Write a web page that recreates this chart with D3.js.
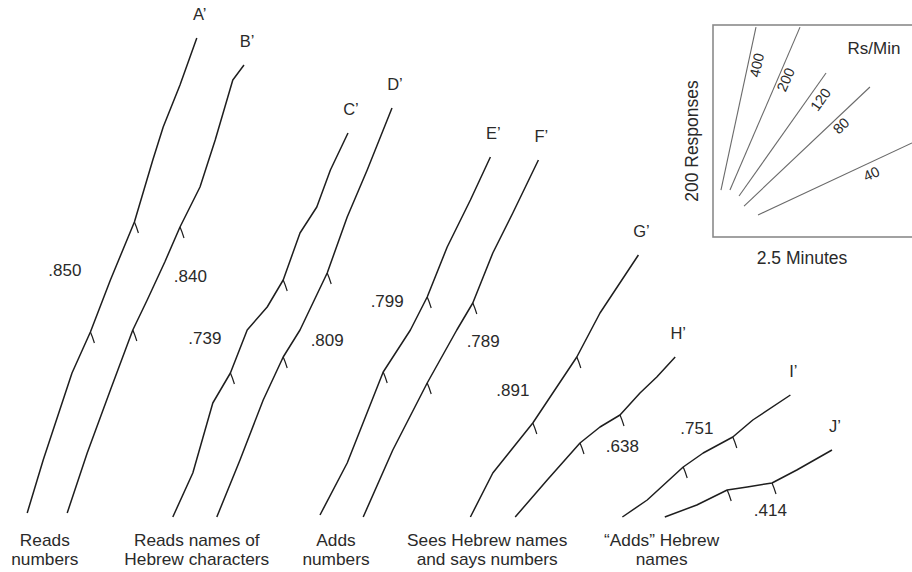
<!DOCTYPE html>
<html>
<head>
<meta charset="utf-8">
<script src="https://cdn.jsdelivr.net/npm/d3@7"></script>
<style>
  html, body { margin: 0; padding: 0; background: #fff; }
  svg { display: block; }
  text { font-family: "Liberation Sans", Arial, Helvetica, sans-serif; fill: #2a2a2a; }
</style>
</head>
<body>
<svg id="chart" width="912" height="572"></svg>
<script>
// ---- Data: cumulative records (minutes, cumulative responses) ----
const curveIds = ["A", "B", "C", "D", "E", "F", "G", "H", "I", "J"];

const minutesA = [0.34, 0.54, 0.90, 1.13, 1.38, 1.68, 1.91, 2.04, 2.25, 2.46];
const respA    = [4, 57, 144, 185, 237, 295, 357, 390, 432, 479];
const minutesB = [0.84, 1.09, 1.38, 1.66, 1.84, 2.06, 2.25, 2.50, 2.69, 2.91, 3.05];
const respB    = [4, 64, 127, 187, 217, 255, 290, 330, 377, 437, 452];
const minutesC = [2.16, 2.41, 2.66, 2.88, 3.09, 3.34, 3.54, 3.75, 3.96, 4.13, 4.35];
const respC    = [0, 44, 114, 144, 187, 210, 237, 284, 310, 347, 384];
const minutesD = [2.71, 3.00, 3.29, 3.54, 3.75, 4.09, 4.34, 4.59, 4.90];
const respD    = [0, 57, 117, 160, 187, 244, 300, 347, 409];
const minutesE = [4.00, 4.34, 4.79, 5.13, 5.34, 5.59, 5.88, 6.13];
const respE    = [2, 54, 145, 187, 220, 270, 317, 360];
const minutesF = [4.54, 4.91, 5.34, 5.71, 5.91, 6.16, 6.41, 6.73];
const respF    = [0, 67, 134, 187, 214, 264, 304, 357];
const minutesG = [5.88, 6.16, 6.66, 7.21, 7.50, 7.98];
const respG    = [0, 44, 94, 160, 204, 262];
const minutesH = [6.44, 6.84, 7.25, 7.50, 7.75, 8.00, 8.21, 8.44];
const respH    = [0, 37, 74, 90, 102, 124, 140, 160];
const minutesI = [7.78, 8.09, 8.54, 8.79, 9.16, 9.41, 9.88];
const respI    = [0, 17, 50, 64, 80, 97, 122];
const minutesJ = [8.31, 8.71, 9.09, 9.34, 9.65, 9.96, 10.40];
const respJ    = [0, 12, 27, 30, 34, 47, 67];

// indices of points where the pen marks (hatches) occur
const hatchA = [3, 5], hatchB = [3, 6], hatchC = [3, 6], hatchD = [3, 5], hatchE = [2, 4];
const hatchF = [2, 4], hatchG = [2, 3], hatchH = [2, 4], hatchI = [2, 4], hatchJ = [2, 4];

// coefficient labels
const coefValues = [".850", ".840", ".739", ".809", ".799", ".789", ".891", ".638", ".751", ".414"];
const coefMinutes = [0.81, 2.38, 2.56, 4.09, 4.84, 6.04, 6.41, 7.78, 8.71, 9.63];
const coefResp    = [245, 239, 177, 175, 214, 174, 125, 69, 87, 5];

// task labels under the records
const taskLines = [["Reads", "numbers"], ["Reads names of", "Hebrew characters"], ["Adds", "numbers"],
                   ["Sees Hebrew names", "and says numbers"], ["\u201CAdds\u201D Hebrew", "names"]];
const taskMinutes = [0.56, 2.46, 4.20, 6.09, 8.27];

// inset rate key
const rateLabels = ["400", "200", "120", "80", "40"];
const rateStartMin = [0.094, 0.20, 0.307, 0.366, 0.531];
const rateStartResp = [44.3, 44.3, 38.7, 29.2, 20.8];
const rateEndMin = [0.507, 1.026, 1.333, 1.851, 2.347];
const rateEndResp = [198, 198, 154.7, 141.5, 88.7];
const rateLabelMin = [0.53, 0.87, 1.28, 1.52, 1.875];
const rateLabelResp = [162, 148, 129, 104, 58.5];

// ---- Build ----
const svg = d3.select("#chart");
const x = d3.scaleLinear().domain([0, 11.4]).range([0, 912]);
const y = d3.scaleLinear().domain([0, 517]).range([517, 0]);

const minutesAll = [minutesA, minutesB, minutesC, minutesD, minutesE, minutesF, minutesG, minutesH, minutesI, minutesJ];
const respAll = [respA, respB, respC, respD, respE, respF, respG, respH, respI, respJ];
const hatchAll = [hatchA, hatchB, hatchC, hatchD, hatchE, hatchF, hatchG, hatchH, hatchI, hatchJ];

const curves = curveIds.map((id, i) => ({
  id,
  pts: minutesAll[i].map((m, k) => ({ m, r: respAll[i][k] })),
  hatches: hatchAll[i]
}));

const line = d3.line().x(d => x(d.m)).y(d => y(d.r));

const g = svg.append("g");
curves.forEach(c => {
  g.append("path")
    .attr("d", line(c.pts))
    .attr("fill", "none")
    .attr("stroke", "#1e1e1e")
    .attr("stroke-width", 1.5)
    .attr("stroke-linejoin", "round");
  c.hatches.forEach(k => {
    const p = c.pts[k];
    const px = x(p.m), py = y(p.r);
    g.append("path")
      .attr("d", `M${px},${py} L${px + 2},${py + 5} L${px + 4},${py + 11}`)
      .attr("fill", "none")
      .attr("stroke", "#1e1e1e")
      .attr("stroke-width", 1.2);
  });
  const last = c.pts[c.pts.length - 1];
  g.append("text")
    .attr("x", x(last.m) + 3)
    .attr("y", y(last.r) - 22)
    .attr("text-anchor", "middle")
    .attr("dominant-baseline", "middle")
    .style("font-size", "16.5px")
    .text(c.id + "\u2019");
});

coefValues.forEach((v, i) => {
  g.append("text")
    .attr("x", x(coefMinutes[i]))
    .attr("y", y(coefResp[i]))
    .attr("text-anchor", "middle")
    .attr("dominant-baseline", "middle")
    .style("font-size", "17px")
    .text(v);
});

taskLines.forEach((lines, i) => {
  lines.forEach((s, j) => {
    g.append("text")
      .attr("transform", `translate(${x(taskMinutes[i])},${546 + j * 19}) scale(1.08,1)`)
      .attr("text-anchor", "middle")
      .style("font-size", "16px")
      .text(s);
  });
});

// ---- Inset ----
const xi = d3.scaleLinear().domain([0, 2.5]).range([713, 925]);
const yi = d3.scaleLinear().domain([0, 200]).range([237, 25]);
const inset = svg.append("g");
inset.append("rect")
  .attr("x", xi(0)).attr("y", yi(200))
  .attr("width", xi(2.5) - xi(0)).attr("height", yi(0) - yi(200))
  .attr("fill", "none").attr("stroke", "#8a8a8a").attr("stroke-width", 1.6);

svg.append("clipPath").attr("id", "insetClip")
  .append("rect").attr("x", xi(0)).attr("y", yi(200))
  .attr("width", xi(2.5) - xi(0)).attr("height", yi(0) - yi(200));

rateLabels.forEach((lab, i) => {
  const x1 = xi(rateStartMin[i]), y1 = yi(rateStartResp[i]);
  const x2 = xi(rateEndMin[i]), y2 = yi(rateEndResp[i]);
  inset.append("line")
    .attr("x1", x1).attr("y1", y1).attr("x2", x2).attr("y2", y2)
    .attr("clip-path", "url(#insetClip)")
    .attr("stroke", "#6a6a6a").attr("stroke-width", 1.1);
  const ang = Math.atan2(y2 - y1, x2 - x1) * 180 / Math.PI;
  const lx = xi(rateLabelMin[i]), ly = yi(rateLabelResp[i]);
  inset.append("text")
    .attr("transform", `translate(${lx},${ly}) rotate(${ang})`)
    .attr("text-anchor", "middle")
    .attr("dominant-baseline", "middle")
    .style("font-size", "14.5px")
    .text(lab);
});

inset.append("text")
  .attr("x", 874).attr("y", 50)
  .attr("text-anchor", "middle").attr("dominant-baseline", "middle")
  .style("font-size", "17px")
  .text("Rs/Min");
inset.append("text")
  .attr("transform", `translate(693,${(yi(0) + yi(200)) / 2 + 10}) rotate(-90)`)
  .attr("text-anchor", "middle").attr("dominant-baseline", "middle")
  .style("font-size", "17.5px")
  .text("200 Responses");
inset.append("text")
  .attr("x", 802).attr("y", 259)
  .attr("text-anchor", "middle").attr("dominant-baseline", "middle")
  .style("font-size", "17.5px")
  .text("2.5 Minutes");
</script>
</body>
</html>
